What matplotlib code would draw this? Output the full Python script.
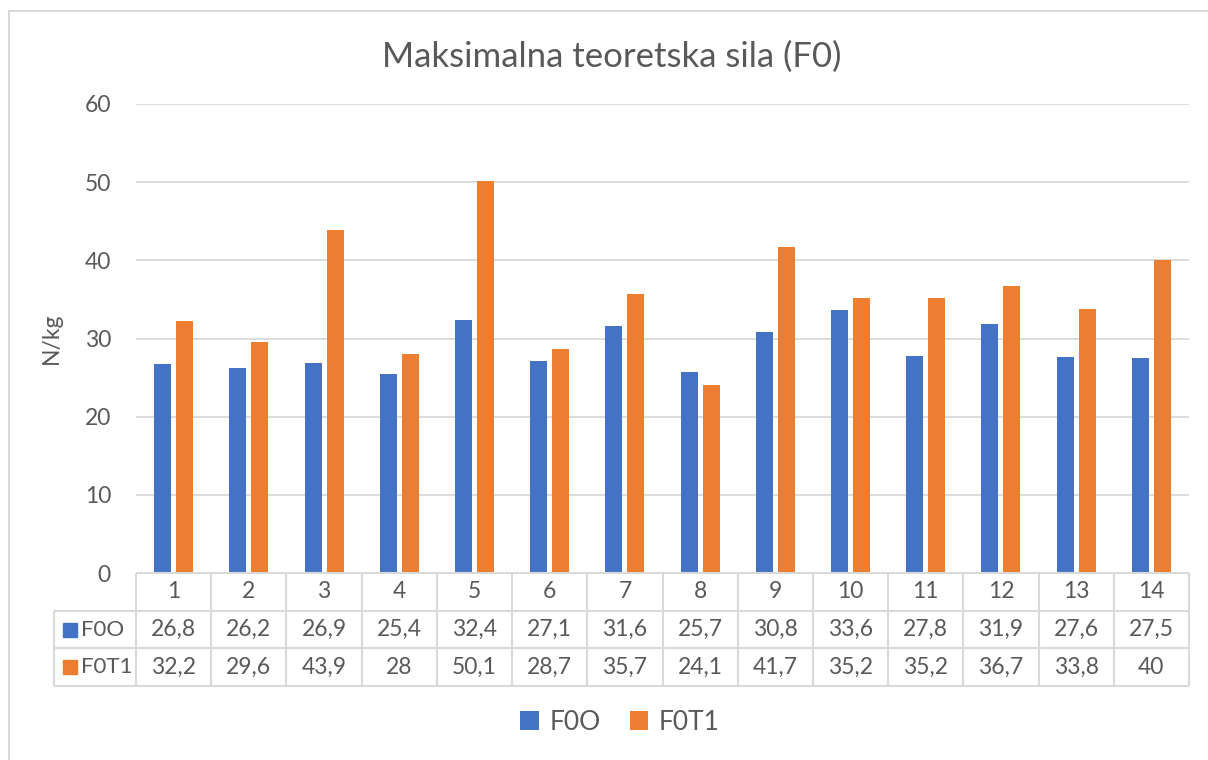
import numpy as np
import matplotlib
matplotlib.use("Agg")
import matplotlib.pyplot as plt
from matplotlib.lines import Line2D
from matplotlib.patches import Rectangle

plt.rcParams["font.family"] = ["Lato", "DejaVu Sans"]

title = "Maksimalna teoretska sila (F0)"
ylabel = "N/kg"
categories = [str(i) for i in range(1, 15)]
series_names = ["F0O", "F0T1"]
f0o = [26.8, 26.2, 26.9, 25.4, 32.4, 27.1, 31.6, 25.7, 30.8, 33.6, 27.8, 31.9, 27.6, 27.5]
f0t1 = [32.2, 29.6, 43.9, 28, 50.1, 28.7, 35.7, 24.1, 41.7, 35.2, 35.2, 36.7, 33.8, 40]
colors = ["#4472C4", "#ED7D31"]
text_col = "#595959"
grid_col = "#D9D9D9"

W, H = 1208, 760
fig = plt.figure(figsize=(W / 100, H / 100), dpi=100)


def box(x0, y0, x1, y1):
    # pixel box (from top-left) -> figure fraction rect
    return [x0 / W, 1 - y1 / H, (x1 - x0) / W, (y1 - y0) / H]


# outer chart border (right/bottom are cropped in the reference)
fig.add_artist(Line2D([9 / W, 9 / W], [0, 1 - 11 / H], color=grid_col, lw=1.5))
fig.add_artist(Line2D([9 / W, 1], [1 - 11 / H, 1 - 11 / H], color=grid_col, lw=1.5))

ax = fig.add_axes(box(136, 104, 1189, 573))
n = len(categories)
x = np.arange(n) + 0.5
bw = 0.226
ax.bar(x - 0.146, f0o, bw, color=colors[0], label=series_names[0], zorder=3)
ax.bar(x + 0.146, f0t1, bw, color=colors[1], label=series_names[1], zorder=3)

ax.set_xlim(0, n)
ax.set_ylim(0, 60)
ax.set_yticks(range(0, 61, 10))
ax.yaxis.grid(True, color=grid_col, lw=1.3)
ax.set_axisbelow(True)
ax.set_xticks([])
for s in ax.spines.values():
    s.set_visible(False)
ax.tick_params(axis="y", length=0, pad=18, labelsize=16.5, labelcolor=text_col)
ax.set_ylabel(ylabel, fontsize=16.5, color=text_col, labelpad=16)

fig.text(612 / W, 1 - 57 / H, title, ha="center", va="center", fontsize=25, color=text_col)

# data table below the plot, sharing the category x scale
tax = fig.add_axes(box(136, 573, 1189, 686), sharex=ax)
tax.set_ylim(3, 0)
tax.axis("off")
lab_x = -(136 - 54) / 75.2
lk = dict(color=grid_col, lw=1.5, clip_on=False, solid_capstyle="butt")
tax.plot([0, n], [0, 0], **lk)
for r in (1, 2, 3):
    tax.plot([lab_x, n], [r, r], **lk)
for c in range(n + 1):
    tax.plot([c, c], [0, 3], **lk)
tax.plot([lab_x, lab_x], [1, 3], **lk)


def fmt(v):
    return f"{v:g}".replace(".", ",")


fs = 16.5
for i, cat in enumerate(categories):
    tax.text(i + 0.5, 0.5, cat, ha="center", va="center", fontsize=fs, color=text_col)
    tax.text(i + 0.5, 1.5, fmt(f0o[i]), ha="center", va="center", fontsize=fs, color=text_col)
    tax.text(i + 0.5, 2.5, fmt(f0t1[i]), ha="center", va="center", fontsize=fs, color=text_col)

for r, (name, col) in enumerate(zip(series_names, colors)):
    tax.add_patch(Rectangle((lab_x + 0.12, r + 1.32), 0.19, 0.37, color=col, clip_on=False))
    tax.text(lab_x + 0.36, r + 1.5, name, ha="left", va="center", fontsize=16, color=text_col)

leg = fig.legend(loc="center", bbox_to_anchor=(620 / W, 1 - 722 / H), ncol=2, frameon=False,
                 fontsize=19, handlelength=0.7, handleheight=0.7, handletextpad=0.4,
                 columnspacing=1.1)
for t in leg.get_texts():
    t.set_color(text_col)

fig.savefig("out.png", dpi=100)
